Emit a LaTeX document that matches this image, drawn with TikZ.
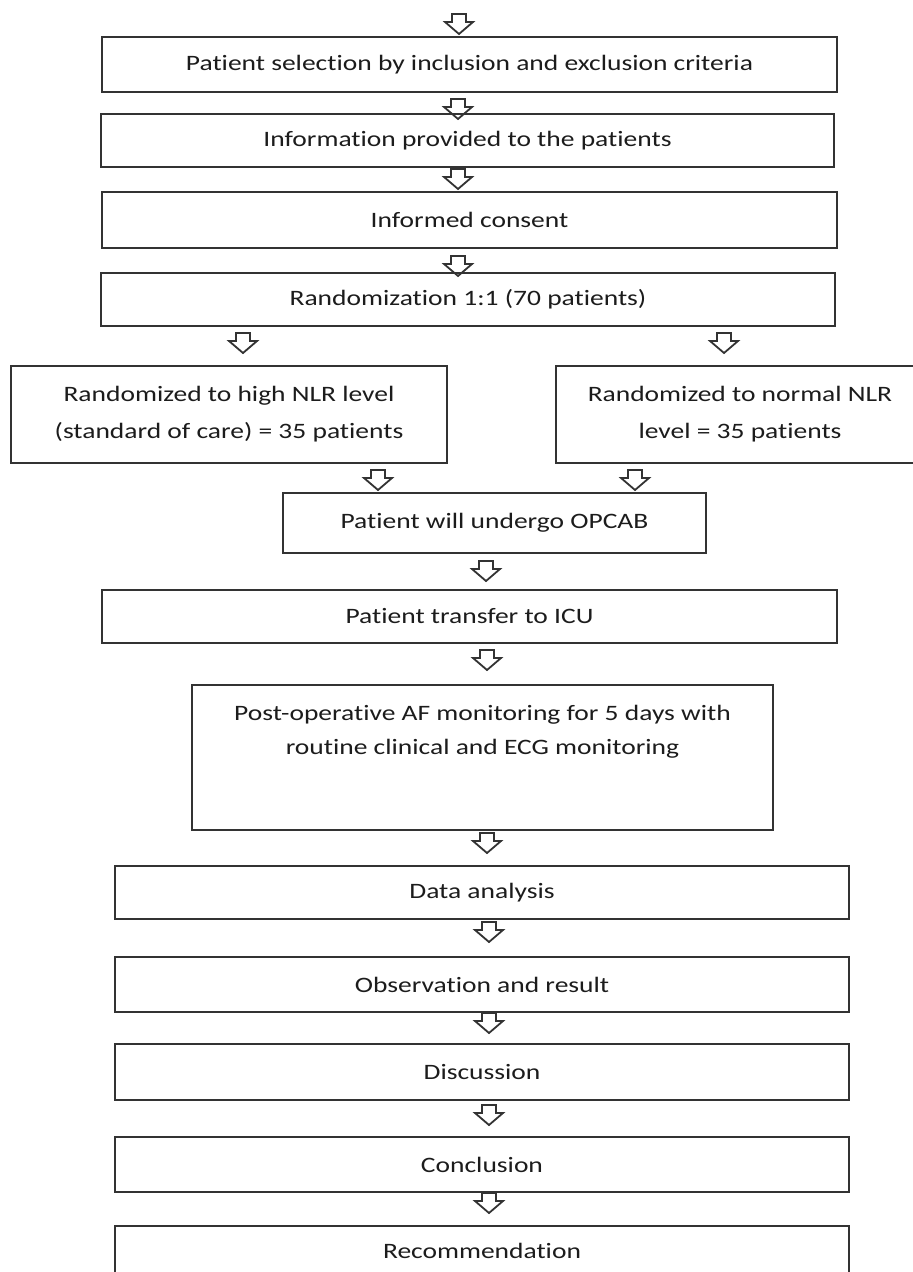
\documentclass[tikz,border=0pt]{standalone}
\usepackage{fontspec}
\setmainfont{Carlito}[FakeStretch=1.25, Ligatures=NoCommon]
\definecolor{boxline}{HTML}{333333}
\definecolor{textgray}{HTML}{1C1C1C}

\begin{document}
\begin{tikzpicture}[
        x=0.5pt,
        y=-0.5pt,
        every node/.style={font=\fontsize{11}{18.5}\selectfont, text=textgray},
        stepbox/.style 2 args={draw=boxline, line width=0.8pt, minimum width=#1*0.5pt,
            minimum height=#2*0.5pt, inner sep=0pt, align=center},
        arrline/.style={draw=boxline, line width=0.9pt, line join=miter},
        downarr/.pic={\path[arrline] (-7,0) -- (7,0) -- (7,8) -- (14,8) -- (0,20)
            -- (-14,8) -- (-7,8) -- cycle;}
    ]
        % Page
        \fill[white] (0,0) rectangle (913,1272);
        \useasboundingbox (0,0) rectangle (913,1272);

        % Boxes
        \node[stepbox={735}{55}] (sel) at (469.5,64.5){Patient selection by inclusion and exclusion criteria};
        \node[stepbox={733}{53}] (info) at (467.5,140.5){Information provided to the patients};
        \node[stepbox={735}{56}] (consent) at (469.5,220){Informed consent};
        \node[stepbox={734}{53}] (rand) at (468,299.5){Randomization 1:1 (70 patients)};
        \node[stepbox={436}{97}] (high) at (229,414.5){Randomized to high NLR level\\(standard of care) = 35 patients};
        \node[stepbox={368}{97}] (normal) at (740,414.5){Randomized to normal NLR\\level = 35 patients};
        \node[stepbox={423}{60}] (opcab) at (494.5,523){Patient will undergo OPCAB};
        \node[stepbox={735}{53}] (icu) at (469.5,616.5){Patient transfer to ICU};
        \node[stepbox={581}{145}] (postop) at (482.5,757.5){\parbox[c][61pt][t]{285pt}{\centering
            \fontsize{11}{17}\selectfont\vspace*{4.5pt}Post-operative AF monitoring for 5 days with\\
            routine clinical and ECG monitoring}};
        \node[stepbox={734}{53}] (data) at (482,892.5){Data analysis};
        \node[stepbox={734}{55}] (obs) at (482,984.5){Observation and result};
        \node[stepbox={734}{56}] (disc) at (482,1072){Discussion};
        \node[stepbox={734}{55}] (concl) at (482,1164.5){Conclusion};
        \node[stepbox={734}{50}] (rec) at (482,1251){Recommendation};

        % Block arrows
        \pic at (459,14) {downarr};
        \pic at (458,99) {downarr};
        \pic at (458,169) {downarr};
        \pic at (458,256) {downarr};
        \pic at (243,333) {downarr};
        \pic at (724,333) {downarr};
        \pic at (378,470) {downarr};
        \pic at (635,470) {downarr};
        \pic at (486,561) {downarr};
        \pic at (487,650) {downarr};
        \pic at (487,833) {downarr};
        \pic at (489,922) {downarr};
        \pic at (489,1013) {downarr};
        \pic at (489,1105) {downarr};
        \pic at (489,1193) {downarr};
    \end{tikzpicture}
\end{document}
